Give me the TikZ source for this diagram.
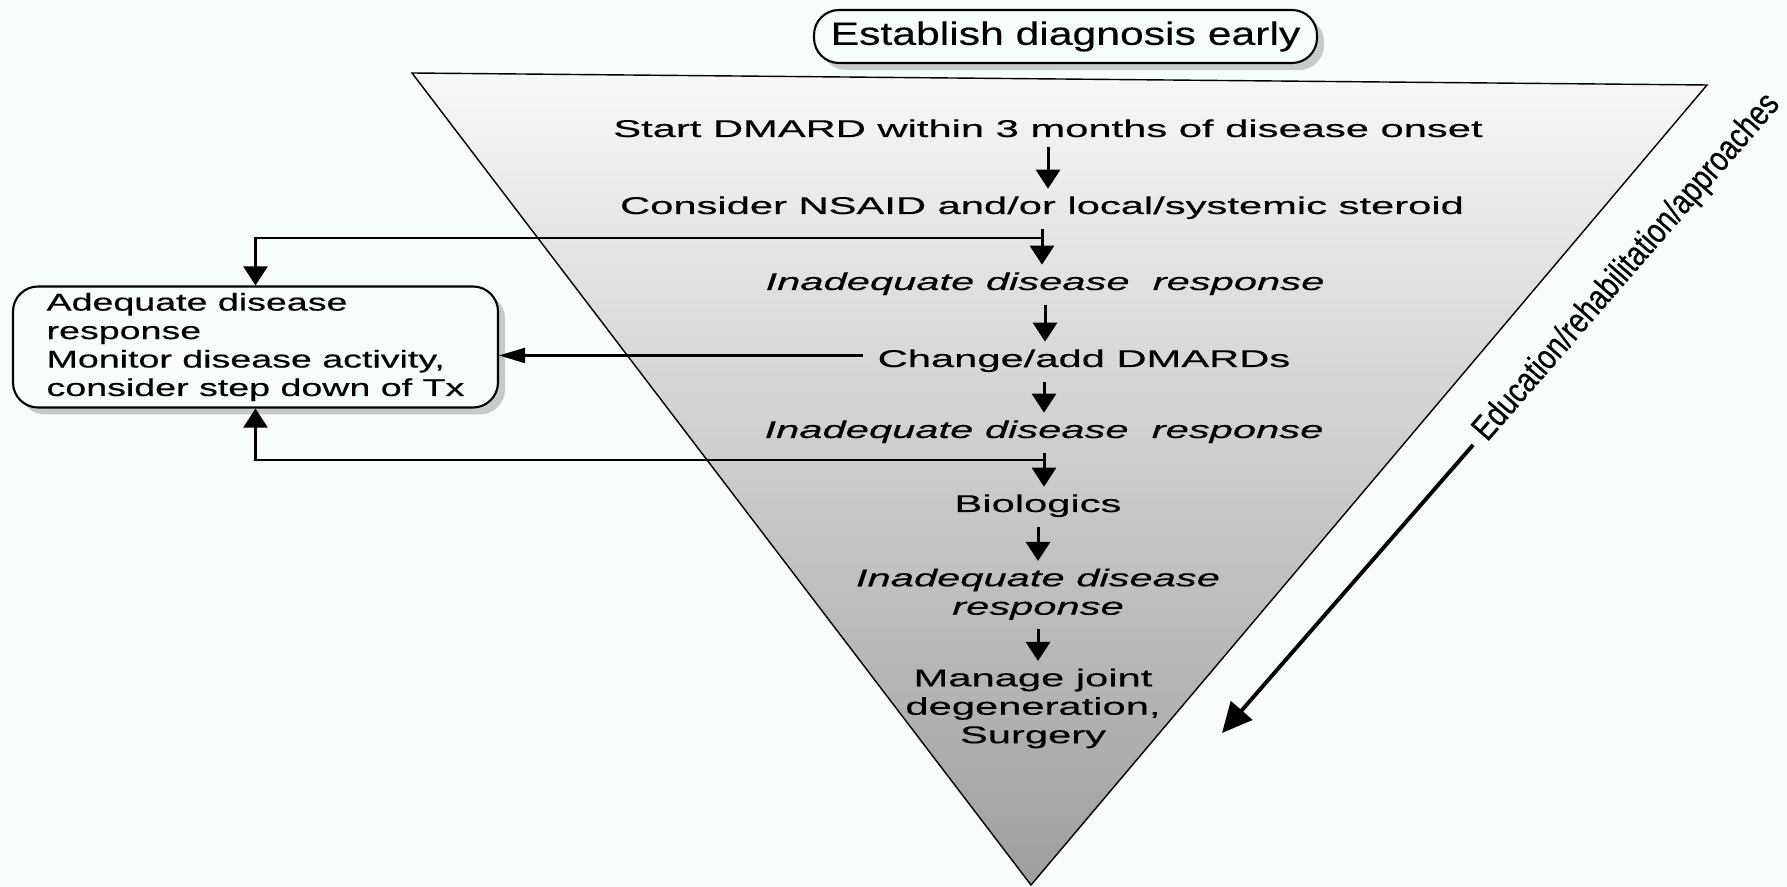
\documentclass[tikz,border=0pt]{standalone}
\usepackage{fontspec}
\setmainfont{Liberation Sans}
\newfontfamily\flowfont[FakeStretch=1.72, FakeBold=0.4]{Liberation Sans}
\newfontfamily\sidefont[FakeStretch=1.55, FakeBold=0.4]{Liberation Sans}
\newfontfamily\headfont[FakeStretch=1.32, FakeBold=0.3]{Liberation Sans}
\newfontfamily\edufont[FakeStretch=0.8, FakeBold=0.3]{Liberation Sans}
\usepackage{xcolor}
\usetikzlibrary{positioning}
\usetikzlibrary{arrows.meta, shadows}
\definecolor{papertint}{RGB}{247,252,253}

\begin{document}
\begin{tikzpicture}[
		flowtext/.style={inner sep=0pt, anchor=base,
			font={\flowfont\fontsize{6.9}{8.1}\selectfont}},
		flowarrow/.style={-{Triangle[width=2.4mm,length=1.9mm]},
			line width=0.85pt, shorten <=2.5pt, shorten >=2pt},
		sidearrow/.style={-{Triangle[width=2.4mm,length=1.9mm]},
			line width=0.65pt},
		headbox/.style={draw, line width=0.6pt, rounded corners=2.5mm,
			minimum width=5.03cm, minimum height=0.53cm, inner sep=0pt,
			fill=papertint,
			drop shadow={shadow xshift=0.7mm, shadow yshift=-0.7mm, fill=black!40},
			font={\headfont\fontsize{9.2}{11}\selectfont}},
		sidebox/.style={draw, line width=0.6pt, rounded corners=2.5mm,
			minimum width=4.85cm, minimum height=1.21cm, align=left,
			inner xsep=0.33cm, inner ysep=0pt, fill=papertint,
			drop shadow={shadow xshift=0.7mm, shadow yshift=-0.7mm, fill=black!40},
			font={\sidefont\fontsize{6.9}{8.1}\selectfont}},
		edulabel/.style={inner sep=0pt, anchor=west, rotate=49,
			font={\edufont\fontsize{10}{11}\selectfont}},
		eduarrow/.style={-{Triangle[width=2.8mm,length=3mm]},
			line width=1.1pt, shorten <=3pt}
	]
		
		\useasboundingbox (0,0) rectangle (17.87,-8.87);
		\fill[papertint] (0,0) rectangle (17.87,-8.87);
		
		%funnel
		\shadedraw[top color=black!3, bottom color=black!38, line width=0.4pt]
			(4.12,-0.73) -- (17.07,-0.85) -- (10.31,-8.85) -- cycle;
		
		\node[headbox] (diag) at (10.655,-0.365) {Establish diagnosis early};
		
		%steps
		\node[flowtext] (start) at (10.48,-1.37) {Start DMARD within 3 months of disease onset};
		\node[flowtext] (nsaid) at (10.42,-2.14) {Consider NSAID and/or local/systemic steroid};
		\node[flowtext] (inad1) at (10.45,-2.90) {\itshape Inadequate disease\ \ response};
		\node[flowtext] (dmards) at (10.84,-3.67) {Change/add DMARDs};
		\node[flowtext] (inad2) at (10.44,-4.38) {\itshape Inadequate disease\ \ response};
		\node[flowtext] (bio) at (10.38,-5.12) {Biologics};
		\node[flowtext, anchor=north, align=center] (inad3) at (10.38,-5.68)
			{\itshape Inadequate disease\\\itshape response};
		\node[flowtext, anchor=north, align=center] (joint) at (10.33,-6.68)
			{Manage joint\\degeneration,\\Surgery};
		
		\node[sidebox] (adeq) at (2.555,-3.47)
			{Adequate disease\\response\\Monitor disease activity,\\consider step down of Tx};
		
		\draw[flowarrow] (start.south) -- (start.south |- nsaid.north);
		\draw[flowarrow] (nsaid.south) -- coordinate[pos=0.35] (fork1) (nsaid.south |- inad1.north);
		\draw[flowarrow] (inad1.south) -- (inad1.south |- dmards.north);
		\draw[flowarrow] (dmards.south -| inad2.north) -- (inad2.north);
		\draw[flowarrow] (inad2.south) -- coordinate[pos=0.33] (fork2) (inad2.south |- bio.north);
		\draw[flowarrow] (bio.south) -- (bio.south |- inad3.north);
		\draw[flowarrow] (inad3.south) -- (inad3.south |- joint.north);
		
		% back to the side box
		\draw[sidearrow] (fork1) -| (adeq.north);
		\draw[sidearrow, -{Triangle[width=1.5mm,length=2.6mm]}, shorten <=4pt]
			([yshift=1.5pt]dmards.west) -- ([yshift=1.5pt]dmards.west -| adeq.east);
		\draw[sidearrow] (fork2) -| (adeq.south);
		
		% education
		\coordinate (eduend) at (12.22,-7.33);
		\node[edulabel] (edu) at (14.80,-4.37) {Education/rehabilitation/approaches};
		\draw[eduarrow] (edu.west) -- (eduend);
	\end{tikzpicture}
\end{document}
